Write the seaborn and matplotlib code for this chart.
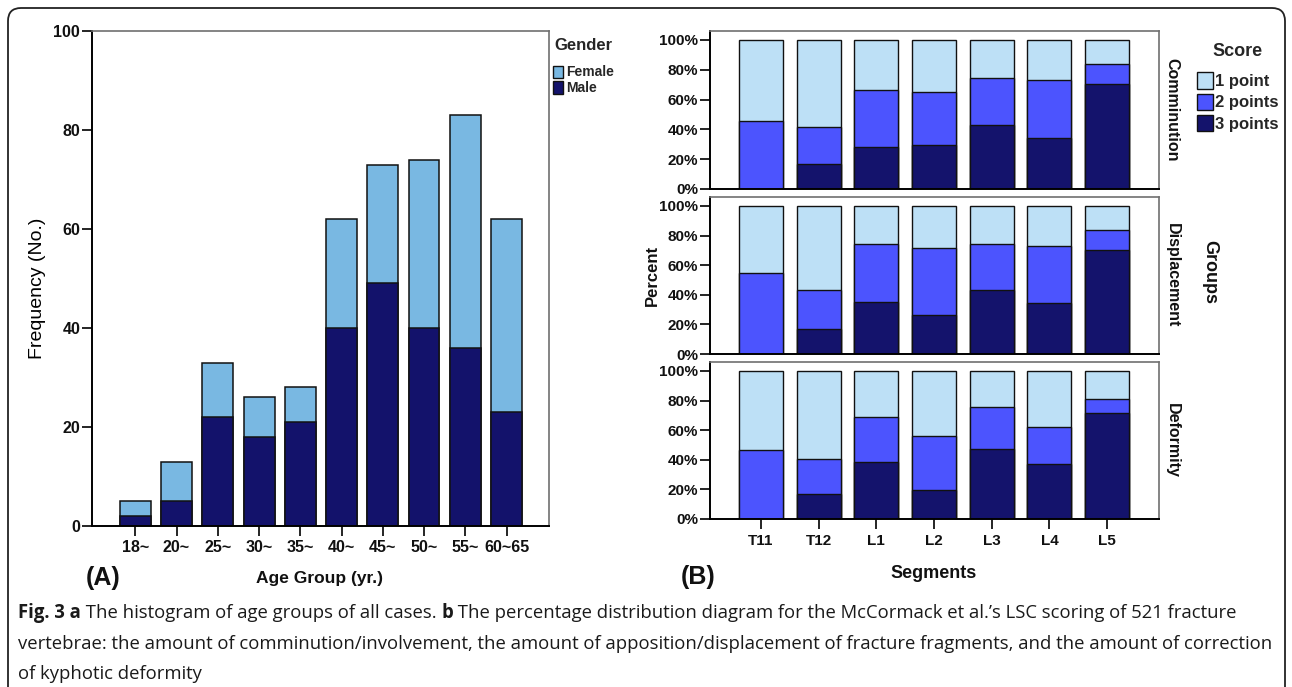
import matplotlib
matplotlib.use("Agg")
import matplotlib.pyplot as plt
import numpy as np
import pandas as pd
import seaborn as sns
from matplotlib.patches import Patch, FancyBboxPatch
from matplotlib import font_manager

# ---------------- data ----------------
age_groups = ["18~", "20~", "25~", "30~", "35~", "40~", "45~", "50~", "55~", "60~65"]
male = [2, 5, 22, 18, 21, 40, 49, 40, 36, 23]
female = [3, 8, 11, 8, 7, 22, 24, 34, 47, 39]

segments = ["T11", "T12", "L1", "L2", "L3", "L4", "L5"]
score_labels = ["1 point", "2 points", "3 points"]
panel_names = ["Comminution", "Displacement", "Deformity"]

# percentage of each score per segment
comminution_3 = [0.0, 16.9, 28.5, 29.8, 43.2, 34.3, 70.6]
comminution_2 = [45.9, 25.0, 38.1, 35.5, 31.0, 38.8, 13.1]
comminution_1 = [54.1, 58.1, 33.4, 34.7, 25.8, 26.9, 16.3]

displacement_3 = [0.0, 16.9, 35.0, 26.3, 43.4, 34.3, 70.4]
displacement_2 = [54.8, 26.5, 39.2, 45.0, 31.0, 38.5, 13.1]
displacement_1 = [45.2, 56.6, 25.8, 28.7, 25.6, 27.2, 16.5]

deformity_3 = [0.0, 16.9, 38.3, 19.4, 47.4, 37.2, 71.7]
deformity_2 = [46.5, 23.6, 30.5, 36.7, 28.3, 24.7, 9.6]
deformity_1 = [53.5, 59.5, 31.2, 43.9, 24.3, 38.1, 18.7]

# ---------------- style ----------------
sns.set_theme(style="white")
avail = {f.name for f in font_manager.fontManager.ttflist}
NARROW = "Liberation Sans Narrow" if "Liberation Sans Narrow" in avail else "Liberation Sans"
plt.rcParams["font.family"] = ["Liberation Sans", "DejaVu Sans"]

FEMALE_C = "#79b8e2"
MALE_C = "#13126b"
SCORE_C = ["#bde0f6", "#4c54fe", "#14136c"]
EDGE = "#111111"

W, H = 1292, 687
fig = plt.figure(figsize=(W / 100, H / 100), dpi=100)


def px_axes(x0, y0, x1, y1):
    return fig.add_axes([x0 / W, 1 - y1 / H, (x1 - x0) / W, (y1 - y0) / H])


def style_axes(ax, tick_size):
    for side in ("left", "bottom"):
        ax.spines[side].set_color("black")
        ax.spines[side].set_linewidth(1.4)
    for side in ("top", "right"):
        ax.spines[side].set_color("#707070")
        ax.spines[side].set_linewidth(1.2)
    ax.tick_params(axis="both", which="major", direction="out", length=7,
                   width=1.2, color="black", pad=1.5,
                   left=True, bottom=True, top=False, right=False)
    for lab in ax.get_xticklabels() + ax.get_yticklabels():
        lab.set_fontfamily(NARROW)
        lab.set_fontweight("bold")
        lab.set_fontsize(tick_size)
        lab.set_color("#111111")
    ax.set_xlabel("")
    ax.set_ylabel("")


# ---------------- (A) age group histogram ----------------
axA = px_axes(92, 31, 549, 526)
age_df = pd.DataFrame({"group": age_groups, "male": male,
                       "total": np.array(male) + np.array(female)})
sns.barplot(data=age_df, x="group", y="total", color=FEMALE_C, saturation=1,
            width=0.75, edgecolor=EDGE, linewidth=1.1, errorbar=None, ax=axA)
sns.barplot(data=age_df, x="group", y="male", color=MALE_C, saturation=1,
            width=0.75, edgecolor=EDGE, linewidth=1.1, errorbar=None, ax=axA)
axA.set_ylim(0, 100)
axA.set_xlim(-1.05, 10.03)
axA.set_yticks([0, 20, 40, 60, 80, 100])
axA.set_yticklabels(["0", "20", "40", "60", "80", "100"])
style_axes(axA, 11.5)
axA.tick_params(axis="x", length=7, pad=3)

fig.text(37 / W, 1 - 288 / H, "Frequency (No.)", rotation=90, ha="center",
         va="center", fontsize=14, fontweight="medium", color="black")
fig.text(320 / W, 1 - 578 / H, "Age Group (yr.)", ha="center", va="center",
         fontsize=12.5, fontweight="bold", color="#111111")
fig.text(103 / W, 1 - 578 / H, "(A)", ha="center", va="center",
         fontsize=18, fontweight="bold", color="#111111")

leg_a = fig.legend(handles=[Patch(facecolor=FEMALE_C, edgecolor=EDGE, linewidth=1.0),
                            Patch(facecolor=MALE_C, edgecolor=EDGE, linewidth=1.0)],
                   labels=["Female", "Male"], title="Gender", loc="upper left",
                   bbox_to_anchor=(553 / W, 1 - 38 / H), frameon=False,
                   handlelength=0.75, handleheight=1.0, handletextpad=0.2,
                   labelspacing=0.12, borderpad=0, borderaxespad=0,
                   prop={"family": NARROW, "weight": "bold", "size": 10})
leg_a.get_title().set_fontfamily(NARROW)
leg_a.get_title().set_fontweight("bold")
leg_a.get_title().set_fontsize(12)
leg_a._legend_box.sep = 9

# ---------------- (B) score distribution by segment ----------------
panels = [
    (comminution_1, comminution_2, comminution_3),
    (displacement_1, displacement_2, displacement_3),
    (deformity_1, deformity_2, deformity_3),
]
panel_px = [(31, 189), (197, 354), (362, 519)]

for i, ((p1, p2, p3), (top, bot), name) in enumerate(zip(panels, panel_px, panel_names)):
    ax = px_axes(710, top, 1159, bot)
    df = pd.DataFrame({"segment": segments,
                       "s1": np.array(p1) + np.array(p2) + np.array(p3),
                       "s2": np.array(p2) + np.array(p3),
                       "s3": np.array(p3)})
    for col, c in zip(["s1", "s2", "s3"], SCORE_C):
        sns.barplot(data=df, x="segment", y=col, color=c, saturation=1,
                    width=0.76, edgecolor=EDGE, linewidth=1.0, errorbar=None, ax=ax)
    ax.set_ylim(0, 106)
    ax.set_xlim(-0.884, 6.90)
    ax.set_yticks([0, 20, 40, 60, 80, 100])
    ax.set_yticklabels(["0%", "20%", "40%", "60%", "80%", "100%"])
    style_axes(ax, 11)
    if i < 2:
        ax.tick_params(axis="x", bottom=False, labelbottom=False)
    else:
        ax.tick_params(axis="x", length=7, pad=4)
    cy = (top + bot) / 2
    fig.text(1172 / W, 1 - cy / H, name, rotation=270, ha="center", va="center",
             fontsize=11.5, fontweight="bold", color="#111111")

fig.text(652 / W, 1 - 275 / H, "Percent", rotation=90, ha="center", va="center",
         fontsize=12, fontweight="bold", color="#111111")
fig.text(1210 / W, 1 - 272 / H, "Groups", rotation=270, ha="center", va="center",
         fontsize=13, fontweight="bold", color="#111111")
fig.text(934 / W, 1 - 573 / H, "Segments", ha="center", va="center",
         fontsize=13, fontweight="bold", color="#111111")
fig.text(698 / W, 1 - 577 / H, "(B)", ha="center", va="center",
         fontsize=18, fontweight="bold", color="#111111")

leg_b = fig.legend(handles=[Patch(facecolor=c, edgecolor=EDGE, linewidth=1.0) for c in SCORE_C],
                   labels=score_labels, title="Score", loc="upper left",
                   bbox_to_anchor=(1197 / W, 1 - 43 / H), frameon=False,
                   handlelength=0.95, handleheight=1.15, handletextpad=0.15,
                   labelspacing=0.25, borderpad=0, borderaxespad=0,
                   prop={"family": NARROW, "weight": "bold", "size": 12})
leg_b.get_title().set_fontweight("bold")
leg_b.get_title().set_fontsize(13)
leg_b._legend_box.sep = 9

# ---------------- frame and caption ----------------
frame = FancyBboxPatch((8 / 100, -0.3), (1285 - 8) / 100, (H - 8) / 100 + 0.3,
                       boxstyle="round,pad=0,rounding_size=0.13",
                       transform=fig.dpi_scale_trans, facecolor="none",
                       edgecolor="#222222", linewidth=1.3)
fig.patches.append(frame)

CAP_FONT = ["Open Sans", "DejaVu Sans"]
renderer = fig.canvas.get_renderer()

line1 = [("Fig. 3 a", "bold"), (" The histogram of age groups of all cases. ", "normal"),
         ("b", "bold"),
         (" The percentage distribution diagram for the McCormack et al.\u2019s LSC scoring of 521 fracture",
          "normal")]
line2 = [("vertebrae: the amount of comminution/involvement, the amount of apposition/displacement "
          "of fracture fragments, and the amount of correction", "normal")]
line3 = [("of kyphotic deformity", "normal")]


def draw_runs(x, y, runs, size):
    cur = x
    for txt, weight in runs:
        t = fig.text(cur / W, 1 - y / H, txt, fontsize=size, fontweight=weight,
                     family=CAP_FONT, ha="left", va="center", color="#1a1a1a")
        cur += t.get_window_extent(renderer).width
    return cur


def run_width(runs, size):
    total = 0.0
    for txt, weight in runs:
        t = fig.text(0, 0, txt, fontsize=size, fontweight=weight, family=CAP_FONT)
        total += t.get_window_extent(renderer).width
        t.remove()
    return total


# size the caption so each line fits inside the frame
cap_size = min(12 * (1258 - 18) / run_width(line1, 12),
               12 * (1268 - 18) / run_width(line2, 12))

draw_runs(18, 613, line1, cap_size)
draw_runs(18, 644, line2, cap_size)
draw_runs(18, 674, line3, cap_size)

fig.savefig("out.png", dpi=100)
